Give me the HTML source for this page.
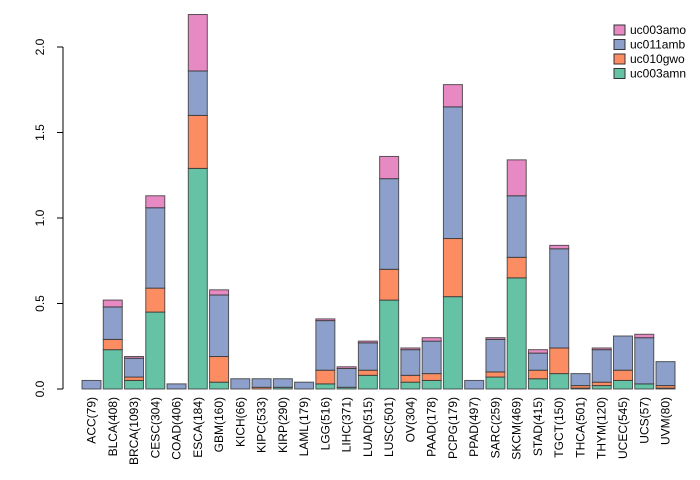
<!DOCTYPE html>
<html><head><meta charset="utf-8"><style>
body{margin:0;background:#fff}
svg{display:block;font-family:"Liberation Sans",sans-serif}
</style></head><body>
<svg id="chart" width="700" height="480"></svg>
<script>
const categories=["ACC(79)","BLCA(408)","BRCA(1093)","CESC(304)","COAD(406)","ESCA(184)","GBM(160)","KICH(66)","KIPC(533)","KIRP(290)","LAML(179)","LGG(516)","LIHC(371)","LUAD(515)","LUSC(501)","OV(304)","PAAD(178)","PCPG(179)","PPAD(497)","SARC(259)","SKCM(469)","STAD(415)","TGCT(150)","THCA(501)","THYM(120)","UCEC(545)","UCS(57)","UVM(80)"];
const uc003amn=[0,0.23,0.05,0.45,0,1.29,0.04,0,0,0.01,0,0.03,0.01,0.08,0.52,0.04,0.05,0.54,0,0.07,0.65,0.06,0.09,0.005,0.02,0.05,0.03,0.005];
const uc010gwo=[0,0.06,0.02,0.14,0,0.31,0.15,0,0.01,0,0,0.08,0,0.03,0.18,0.04,0.04,0.34,0,0.03,0.12,0.05,0.15,0.015,0.02,0.06,0,0.015];
const uc011amb=[0.05,0.19,0.11,0.47,0.03,0.26,0.36,0.06,0.05,0.05,0.04,0.29,0.11,0.16,0.53,0.15,0.19,0.77,0.05,0.19,0.36,0.10,0.58,0.07,0.19,0.20,0.27,0.14];
const uc003amo=[0,0.04,0.01,0.07,0,0.33,0.03,0,0,0,0,0.01,0.01,0.01,0.13,0.01,0.02,0.13,0,0.01,0.21,0.02,0.02,0,0.01,0,0.02,0];
const yTicks=[0,0.5,1.0,1.5,2.0];
const yTickLabels=["0.0","0.5","1.0","1.5","2.0"];
const seriesNames=["uc003amn","uc010gwo","uc011amb","uc003amo"];
const seriesColors=["#66c2a5","#fc8d62","#8da0cb","#e78ac3"];
const series=[uc003amn,uc010gwo,uc011amb,uc003amo];

const NS="http://www.w3.org/2000/svg";
const svg=document.getElementById("chart");
function y(v){return 389-v*171;}
function xc(i){return 91.5+i*21.26;}
function mk(t,a,p){const e=document.createElementNS(NS,t);for(const k in a)e.setAttribute(k,a[k]);(p||svg).appendChild(e);return e;}

const bars=mk("g",{});


categories.forEach((c,i)=>{
  let base=0;
  series.forEach((s,j)=>{
    const v=s[i];
    if(v>0){
      const r=mk("rect",{x:xc(i)-9.5,y:y(base+v),width:19,height:y(base)-y(base+v),fill:seriesColors[j],stroke:"#333","stroke-opacity":0.8,"stroke-width":1},bars);
      
      
    }
    base+=v;
  });
  const t=mk("text",{x:0,y:0,transform:`translate(${xc(i)+4},397) rotate(-90)`,"text-anchor":"end","font-size":12,fill:"#000"});
  t.textContent=c;
  
  
});

const ax=mk("g",{});


mk("line",{x1:63,x2:63,y1:y(2),y2:y(0),stroke:"#000"},ax);
yTicks.forEach((v,i)=>{
  mk("line",{x1:57,x2:63,y1:y(v),y2:y(v),stroke:"#000"},ax);
  const t=mk("text",{x:0,y:0,transform:`translate(44,${y(v)}) rotate(-90)`,"text-anchor":"middle","font-size":12},ax);
  t.textContent=yTickLabels[i];
  
  
});

const lg=mk("g",{});


[3,2,1,0].forEach((j,k)=>{
  const yy=30+k*14.5;
  mk("rect",{x:614,y:yy-5,width:11,height:10,fill:seriesColors[j],stroke:"#333"},lg);
  const t=mk("text",{x:630,y:yy+4,"font-size":12},lg);
  t.textContent=seriesNames[j];
  
  
});
</script>
</body></html>
